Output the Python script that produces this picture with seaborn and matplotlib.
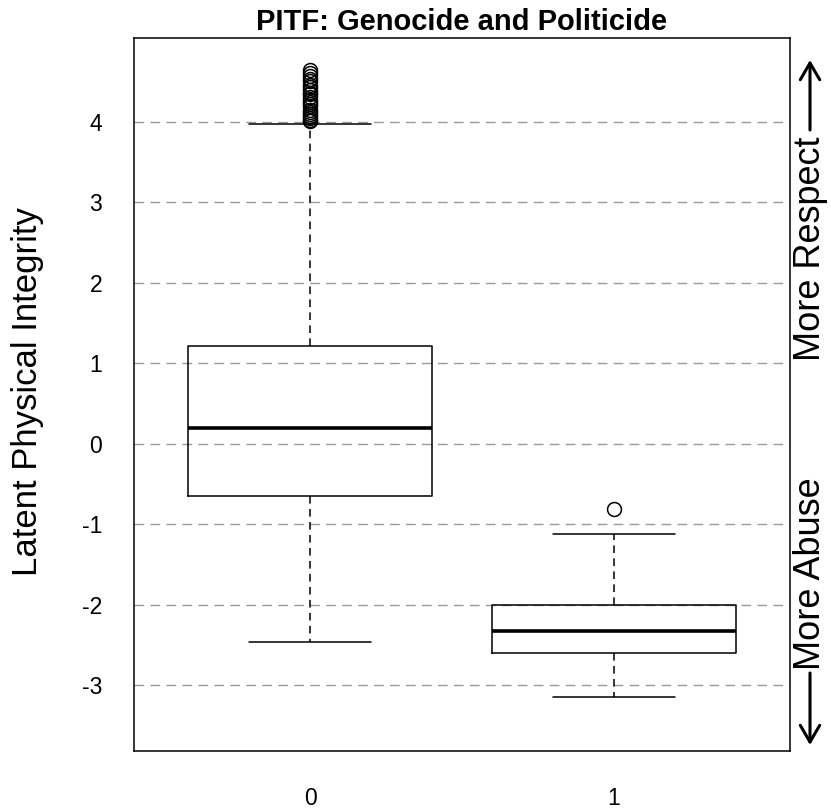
import matplotlib
matplotlib.use("Agg")
import matplotlib.pyplot as plt
import pandas as pd
import seaborn as sns

# PITF genocide/politicide indicator categories
groups = ["0", "1"]

# Latent physical integrity scores, country-years without an episode (sorted)
scores_no_episode = [
    # lower tail
    -2.46, -2.31, -2.18, -2.05, -1.93, -1.82, -1.72, -1.63, -1.55, -1.47,
    -1.40, -1.33, -1.27, -1.21, -1.15, -1.10, -1.05, -1.00, -0.95, -0.91,
    -0.87, -0.83, -0.79, -0.75, -0.71, -0.68,
    # first quartile
    -0.65,
    -0.62, -0.59, -0.55, -0.52, -0.48, -0.45, -0.41, -0.37, -0.34, -0.30,
    -0.27, -0.23, -0.20, -0.16, -0.13, -0.09, -0.06, -0.03, 0.00, 0.03,
    0.06, 0.09, 0.12, 0.15, 0.17,
    # median
    0.19,
    0.22, 0.27, 0.30, 0.35, 0.38, 0.43, 0.46, 0.51, 0.54, 0.58,
    0.63, 0.66, 0.71, 0.74, 0.79, 0.82, 0.87, 0.90, 0.95, 0.98,
    1.03, 1.06, 1.10, 1.15, 1.18,
    # third quartile
    1.21,
    # upper tail
    1.38, 1.72, 2.15, 3.97,
    4.01, 4.02, 4.04, 4.07, 4.10, 4.12, 4.15, 4.19, 4.22, 4.24, 4.27,
    4.31, 4.34, 4.36, 4.40, 4.43, 4.46, 4.50, 4.53, 4.57, 4.61, 4.64,
]

# Latent physical integrity scores, country-years with an episode (sorted)
scores_episode = [-3.15, -2.85, -2.60, -2.45, -2.33, -2.18, -2.00, -1.12, -0.81]

y_ticks = [-3, -2, -1, 0, 1, 2, 3, 4]

df = pd.DataFrame({
    "pitf": [groups[0]] * len(scores_no_episode) + [groups[1]] * len(scores_episode),
    "latent": scores_no_episode + scores_episode,
})

sns.set_style("white")
plt.rcParams["font.family"] = ["Liberation Sans", "DejaVu Sans"]
plt.rcParams["text.color"] = "black"
plt.rcParams["axes.labelcolor"] = "black"
plt.rcParams["xtick.color"] = "black"
plt.rcParams["ytick.color"] = "black"

W, H = 831, 810
fig = plt.figure(figsize=(W / 100, H / 100), dpi=100)
ax = fig.add_axes([134 / W, 1 - 751 / H, (790 - 134) / W, (751 - 38) / H])

# dashed horizontal reference lines
for t in y_ticks:
    ax.axhline(t, color="#9a9a9a", lw=1.0, ls=(0, (7, 4.5)), zorder=0)

sns.boxplot(
    data=df, x="pitf", y="latent", order=groups, ax=ax,
    width=0.8, fill=False, color="black", linewidth=1.1, whis=1.5,
    fliersize=10,
    whiskerprops=dict(linestyle=(0, (5, 3.5)), color="black"),
    capprops=dict(color="black"),
    boxprops=dict(color="black"),
    medianprops=dict(linewidth=2.6, color="black"),
    flierprops=dict(marker="o", markersize=10, markerfacecolor="none",
                    markeredgecolor="black", markeredgewidth=1.1),
)

ax.set_xlim(-0.579, 1.579)
ax.set_ylim(-3.82, 5.04)
ax.set_yticks(y_ticks)
ax.set_yticklabels([str(t) for t in y_ticks])
ax.set_xticks([0, 1])
ax.set_xticklabels(groups)
ax.set_xlabel("")
ax.set_ylabel("")
ax.tick_params(axis="both", direction="out", length=10.8, width=1.1,
               color="black", labelsize=16.5, labelcolor="black")
ax.tick_params(axis="y", pad=12)
ax.tick_params(axis="x", pad=15)
for s in ax.spines.values():
    s.set_visible(True)
    s.set_color("black")
    s.set_linewidth(1.1)

fig.text(462 / W, 1 - 30 / H, "PITF: Genocide and Politicide", fontsize=21,
         fontweight="bold", ha="center", va="baseline", color="black")
fig.text(28 / W, 1 - 392 / H, "Latent Physical Integrity", fontsize=25,
         rotation=90, ha="center", va="center", color="black")

# direction labels on the right margin
fig.text(810 / W, 1 - 249 / H, "More Respect", fontsize=26, rotation=90,
         ha="center", va="center", color="black")
fig.text(810 / W, 1 - 574 / H, "More Abuse", fontsize=26, rotation=90,
         ha="center", va="center", color="black")
arrow_kw = dict(arrowstyle="->,head_length=1.2,head_width=0.7", lw=2.2,
                color="black", mutation_scale=10, shrinkA=0, shrinkB=0)
ax.annotate("", xy=(810 / W, 1 - 60 / H), xytext=(810 / W, 1 - 130 / H),
            xycoords="figure fraction", textcoords="figure fraction",
            arrowprops=arrow_kw, annotation_clip=False)
ax.annotate("", xy=(810 / W, 1 - 745 / H), xytext=(810 / W, 1 - 673 / H),
            xycoords="figure fraction", textcoords="figure fraction",
            arrowprops=arrow_kw, annotation_clip=False)

fig.savefig("out.png", dpi=100)
